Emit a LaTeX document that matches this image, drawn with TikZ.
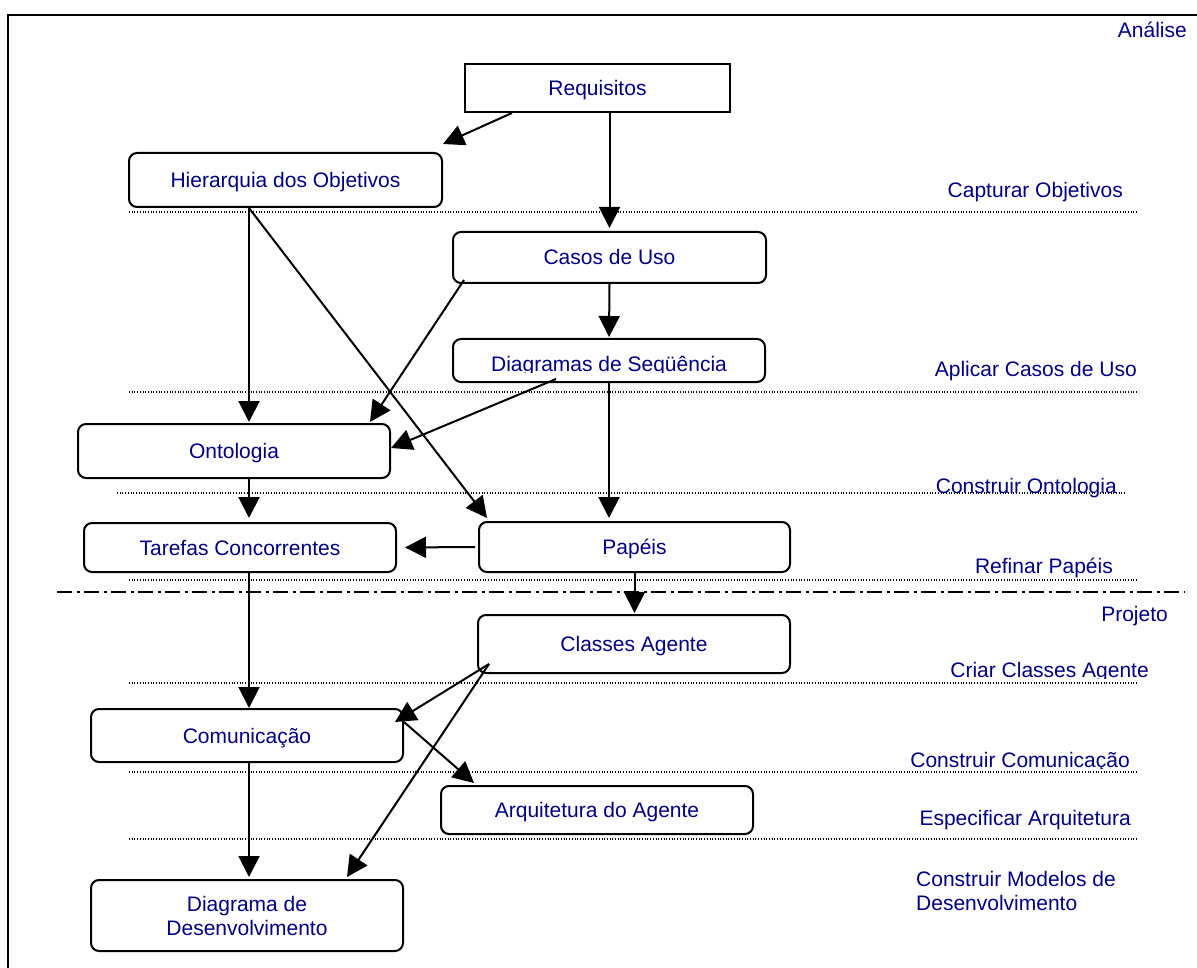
\documentclass[tikz,border=0pt]{standalone}
\usepackage{fontspec}
\setmainfont{Liberation Sans}
\usetikzlibrary{arrows.meta,calc}
\definecolor{labelblue}{RGB}{0,0,128}
\begin{document}
\begin{tikzpicture}[x=1pt,y=-1pt,
  txt/.style={text=labelblue, font=\fontsize{21pt}{24pt}\selectfont, inner sep=0pt},
  basebox/.style={draw, line width=2pt, rounded corners=8pt, fill=white, txt},
  box/.style={basebox, text height=15pt, text depth=0pt},
  stage/.style={txt},
  arr/.style={-{Triangle[length=21pt,width=21pt]}, line width=2pt},
  sepline/.style={line width=1.3pt, black, dash pattern=on 1pt off 1.7pt},
  phaseline/.style={line width=2.2pt, dash pattern=on 15pt off 4.5pt on 3pt off 4.5pt}
]
\useasboundingbox (0,0) rectangle (1197,968);

% outer frame (continues past the page edge)
\draw[line width=2pt] (1197,15) -- (8,15) -- (8,968);

% activity separators
\draw[sepline] (129,212) -- (1137,212);
\draw[sepline] (129,392) -- (1137,392);
\draw[sepline] (117,493) -- (1125,493);
\draw[sepline] (129,580) -- (1137,580);
\draw[sepline] (129,683) -- (1137,683);
\draw[sepline] (129,772) -- (1137,772);
\draw[sepline] (129,839) -- (1137,839);
% phase separator
\draw[phaseline] (57,592) -- (1185,592);

% phase and activity names
\node[stage, anchor=base east] (analise) at (1187,38) {Análise};
\node[stage, anchor=base east] (capt) at (1123,198) {Capturar Objetivos};
\node[stage, anchor=base east] (aplic) at (1137,377) {Aplicar Casos de Uso};
\node[stage, anchor=base east] (consont) at (1117,493) {Construir Ontologia};
\node[stage, anchor=base east] (refin) at (1113,573) {Refinar Papéis};
\node[stage, anchor=base east] (projeto) at (1168,621) {Projeto};
\begin{scope}
  \clip (900,640) rectangle (1197,678.5);
  \node[stage, anchor=base east] (criar) at (1149,677) {Criar Classes Agente};
\end{scope}
\begin{scope}
  \clip (880,730) rectangle (1197,768);
  \node[stage, anchor=base east] (conscom) at (1130,767) {Construir Comunicação};
\end{scope}
\node[stage, anchor=base east] (espec) at (1131,825) {Especificar Arquitetura};
\node[stage, anchor=base west, align=left] (consmod) at (916,910) {Construir Modelos de\\Desenvolvimento};

% models
\node[box, rounded corners=0pt, minimum width=265pt, minimum height=48pt] (req) at (597.5,88) {Requisitos};
\node[box, minimum width=313pt, minimum height=54pt] (hier) at (285.5,180) {Hierarquia dos Objetivos};
\node[box, minimum width=313pt, minimum height=51pt] (casos) at (609.5,257.5) {Casos de Uso};
\node[basebox, minimum width=312pt, minimum height=43pt] (diag) at (609,360.5) {};
\begin{scope}
  \clip (455,341) rectangle (763,372);
  \node[txt, anchor=base] (diagtxt) at (609,371) {Diagramas de Seqüência};
\end{scope}
\node[box, minimum width=312pt, minimum height=54pt] (onto) at (234,451) {Ontologia};
\node[box, minimum width=312pt, minimum height=49pt] (taref) at (240,547.5) {Tarefas Concorrentes};
\node[box, minimum width=311pt, minimum height=50pt] (papeis) at (634.5,547) {Papéis};
\node[box, minimum width=312pt, minimum height=58pt] (classes) at (634,644) {Classes Agente};
\node[box, minimum width=312pt, minimum height=53pt] (comun) at (247,735.5) {Comunicação};
\node[box, minimum width=312pt, minimum height=48pt] (arq) at (597,810) {Arquitetura do Agente};
\node[basebox, align=center, minimum width=312pt, minimum height=71pt] (diagdes) at (247,915.5) {Diagrama de\\Desenvolvimento};

% common vertical column of the left-hand flow
\coordinate (col) at (249,0);

% flows
\draw[arr] ([xshift=48pt]req.south west) -- ([yshift=8pt]hier.north east);
\draw[arr, shorten >=3pt] (req.south -| casos.north) -- (casos.north);
\draw[arr, shorten >=1pt] (casos.south) -- (diag.north);
\draw[arr, shorten >=1pt] (hier.south -| col) -- (onto.north -| col);
\draw[arr] ([xshift=12pt,yshift=4pt]casos.south west) -- ([xshift=-21pt,yshift=1pt]onto.north east);
\draw[arr] ([xshift=104pt,yshift=4pt]diag.south west) -- ([yshift=3pt]onto.east);
\draw[arr] (hier.south -| col) -- ([xshift=9pt,yshift=3pt]papeis.north west);
\draw[arr, shorten >=3pt] (diag.south) -- (diag.south |- papeis.north);
\draw[arr, shorten >=4pt] (onto.south -| col) -- (taref.north -| col);
\draw[arr, shorten >=8pt, shorten <=3pt] (papeis.west) -- (taref.east);
\draw[arr, shorten >=1pt] (papeis.south) -- (papeis.south |- classes.north);
\draw[arr] (taref.south -| col) -- (comun.north -| col);
\draw[arr] ([xshift=12pt,yshift=10pt]classes.south west) -- ([xshift=-9pt,yshift=-14pt]comun.north east);
\draw[arr] ([xshift=12pt,yshift=10pt]classes.south west) -- ([xshift=-57pt,yshift=2pt]diagdes.north east);
\draw[arr] ([yshift=-14pt]comun.north east) -- ([xshift=34pt,yshift=2pt]arq.north west);
\draw[arr, shorten >=2pt] (comun.south -| col) -- (diagdes.north -| col);
\end{tikzpicture}
\end{document}
